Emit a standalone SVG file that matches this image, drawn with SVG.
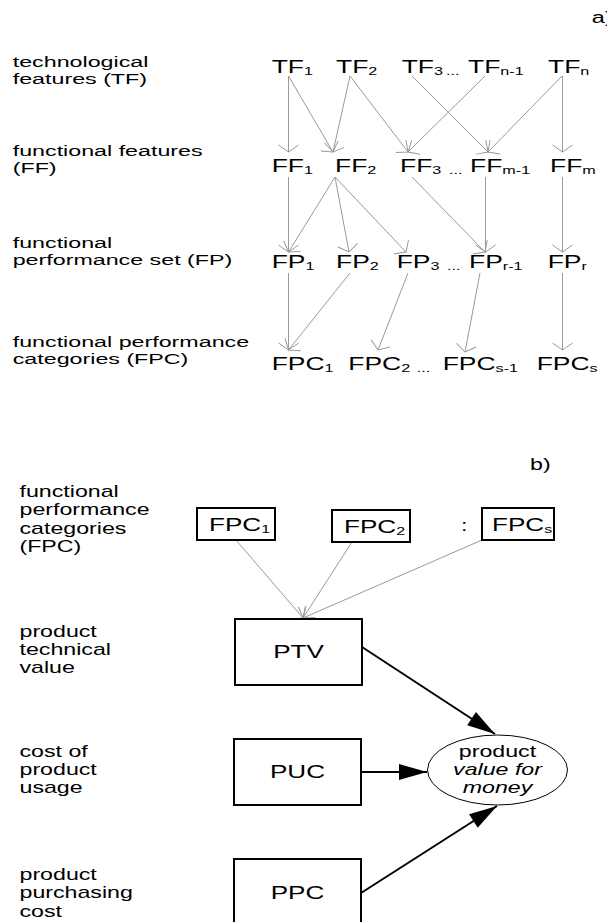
<svg xmlns="http://www.w3.org/2000/svg" width="607" height="922" viewBox="0 0 607 922">
<style>
text{font-family:"Liberation Sans",Arial,sans-serif;fill:#000}
.lbl{font-size:15.5px}
.lb2{font-size:16px}
.nd{font-size:18px}
.sub{font-size:11px}
.dots{font-size:11px}
.thin{stroke:#999;stroke-width:1;fill:none;marker-end:url(#open)}
.thick{stroke:#000;stroke-width:2;fill:none;marker-end:url(#solid)}
.box{fill:#fff;stroke:#000;stroke-width:2}
.it{font-style:italic}
</style>
<defs>
<marker id="open" viewBox="-9 -11 10 22" markerWidth="10" markerHeight="22" refX="0" refY="0" orient="auto" markerUnits="userSpaceOnUse">
<path d="M-7,-10 L0,0 L-7,10" fill="none" stroke="#999" stroke-width="1"/>
</marker>
<marker id="solid" viewBox="-29 -9 30 18" markerWidth="30" markerHeight="18" refX="0" refY="0" orient="auto" markerUnits="userSpaceOnUse">
<path d="M0,0 L-28,-8 L-28,8 Z" fill="#000"/>
</marker>
</defs>

<g id="part-a-labels">
<text class="lb2" transform="translate(591.7 23) scale(1.47 1)">a)</text>
<text class="lbl" transform="translate(12.7 67) scale(1.5 1)">technological</text>
<text class="lbl" transform="translate(12.7 83.5) scale(1.5 1)">features (TF)</text>
<text class="lbl" transform="translate(12.7 156) scale(1.5 1)">functional features</text>
<text class="lbl" transform="translate(12.7 172.5) scale(1.5 1)">(FF)</text>
<text class="lbl" transform="translate(12.7 248) scale(1.5 1)">functional</text>
<text class="lbl" transform="translate(12.7 265) scale(1.5 1)">performance set (FP)</text>
<text class="lbl" transform="translate(12.7 347) scale(1.5 1)">functional performance</text>
<text class="lbl" transform="translate(12.7 364) scale(1.5 1)">categories (FPC)</text>
</g>

<g id="connectors-a">
<line class="thin" x1="288.5" y1="76" x2="288.5" y2="152"/>
<line class="thin" x1="288.5" y1="76" x2="333" y2="152"/>
<line class="thin" x1="350" y1="76" x2="333" y2="152"/>
<line class="thin" x1="350" y1="76" x2="408" y2="152"/>
<line class="thin" x1="412" y1="76" x2="488" y2="152"/>
<line class="thin" x1="485" y1="76" x2="408" y2="152"/>
<line class="thin" x1="562" y1="76" x2="488" y2="152"/>
<line class="thin" x1="562.5" y1="76" x2="562.5" y2="152"/>
<line class="thin" x1="288.5" y1="177" x2="288.5" y2="252"/>
<line class="thin" x1="335" y1="177" x2="288.5" y2="252"/>
<line class="thin" x1="335" y1="177" x2="349" y2="252"/>
<line class="thin" x1="335" y1="177" x2="406" y2="252"/>
<line class="thin" x1="412" y1="177" x2="485" y2="252"/>
<line class="thin" x1="485.5" y1="177" x2="485.5" y2="252"/>
<line class="thin" x1="562.5" y1="177" x2="562.5" y2="252"/>
<line class="thin" x1="288.5" y1="273" x2="288.5" y2="350"/>
<line class="thin" x1="350" y1="273" x2="288.5" y2="350"/>
<line class="thin" x1="408" y1="273" x2="378" y2="350"/>
<line class="thin" x1="480" y1="273" x2="465" y2="352"/>
<line class="thin" x1="562.5" y1="273" x2="562.5" y2="350"/>
</g>

<g id="TF1"><text class="nd" transform="translate(271.7 73) scale(1.47 1)">TF<tspan class="sub" dy="2">1</tspan></text></g>
<g id="TF2"><text class="nd" transform="translate(336 73) scale(1.47 1)">TF<tspan class="sub" dy="2">2</tspan></text></g>
<g id="TF3"><text class="nd" transform="translate(401.7 73) scale(1.47 1)">TF<tspan class="sub" dy="2">3</tspan></text></g>
<text class="dots" transform="translate(446 75) scale(1.47 1)">...</text>
<g id="TFn-1"><text class="nd" transform="translate(468 73) scale(1.47 1)">TF<tspan class="sub" dy="2">n-1</tspan></text></g>
<g id="TFn"><text class="nd" transform="translate(548 73) scale(1.47 1)">TF<tspan class="sub" dy="2">n</tspan></text></g>

<g id="FF1"><text class="nd" transform="translate(271.7 172) scale(1.47 1)">FF<tspan class="sub" dy="2">1</tspan></text></g>
<g id="FF2"><text class="nd" transform="translate(335 172) scale(1.47 1)">FF<tspan class="sub" dy="2">2</tspan></text></g>
<g id="FF3"><text class="nd" transform="translate(400 172) scale(1.47 1)">FF<tspan class="sub" dy="2">3</tspan></text></g>
<text class="dots" transform="translate(449 174) scale(1.47 1)">...</text>
<g id="FFm-1"><text class="nd" transform="translate(470 172) scale(1.47 1)">FF<tspan class="sub" dy="2">m-1</tspan></text></g>
<g id="FFm"><text class="nd" transform="translate(550 172) scale(1.47 1)">FF<tspan class="sub" dy="2">m</tspan></text></g>

<g id="FP1"><text class="nd" transform="translate(271.7 268) scale(1.47 1)">FP<tspan class="sub" dy="2">1</tspan></text></g>
<g id="FP2"><text class="nd" transform="translate(336 268) scale(1.47 1)">FP<tspan class="sub" dy="2">2</tspan></text></g>
<g id="FP3"><text class="nd" transform="translate(396.7 268) scale(1.47 1)">FP<tspan class="sub" dy="2">3</tspan></text></g>
<text class="dots" transform="translate(447 270) scale(1.47 1)">...</text>
<g id="FPr-1"><text class="nd" transform="translate(469 268) scale(1.47 1)">FP<tspan class="sub" dy="2">r-1</tspan></text></g>
<g id="FPr"><text class="nd" transform="translate(547.7 268) scale(1.47 1)">FP<tspan class="sub" dy="2">r</tspan></text></g>

<g id="FPC1"><text class="nd" transform="translate(271.7 370) scale(1.47 1)">FPC<tspan class="sub" dy="2">1</tspan></text></g>
<g id="FPC2"><text class="nd" transform="translate(348.3 370) scale(1.47 1)">FPC<tspan class="sub" dy="2">2</tspan></text></g>
<text class="dots" transform="translate(416.7 372) scale(1.47 1)">...</text>
<g id="FPCs-1"><text class="nd" transform="translate(442.7 370) scale(1.47 1)">FPC<tspan class="sub" dy="2">s-1</tspan></text></g>
<g id="FPCs"><text class="nd" transform="translate(536.7 370) scale(1.47 1)">FPC<tspan class="sub" dy="2">s</tspan></text></g>

<g id="part-b-labels">
<text class="lb2" transform="translate(530 470) scale(1.45 1)">b)</text>
<text class="lb2" transform="translate(19.5 497) scale(1.45 1)">functional</text>
<text class="lb2" transform="translate(19.5 515.3) scale(1.45 1)">performance</text>
<text class="lb2" transform="translate(19.5 533.6) scale(1.45 1)">categories</text>
<text class="lb2" transform="translate(19.5 552) scale(1.45 1)">(FPC)</text>
<text class="lb2" transform="translate(19.5 636.5) scale(1.45 1)">product</text>
<text class="lb2" transform="translate(19.5 655) scale(1.45 1)">technical</text>
<text class="lb2" transform="translate(19.5 673.3) scale(1.45 1)">value</text>
<text class="lb2" transform="translate(19.5 756.7) scale(1.45 1)">cost of</text>
<text class="lb2" transform="translate(19.5 775) scale(1.45 1)">product</text>
<text class="lb2" transform="translate(19.5 793.3) scale(1.45 1)">usage</text>
<text class="lb2" transform="translate(19.5 880) scale(1.45 1)">product</text>
<text class="lb2" transform="translate(19.5 898.3) scale(1.45 1)">purchasing</text>
<text class="lb2" transform="translate(19.5 916.7) scale(1.45 1)">cost</text>
</g>

<g id="connectors-b">
<line class="thin" x1="236" y1="540" x2="303" y2="618"/>
<line class="thin" x1="352" y1="542" x2="303" y2="618"/>
<line class="thin" x1="482" y1="540" x2="303" y2="618"/>
<line class="thick" x1="362" y1="647" x2="495" y2="734"/>
<line class="thick" x1="361" y1="772" x2="427" y2="772"/>
<line class="thick" x1="361" y1="893" x2="497" y2="806"/>
</g>

<g id="b-FPC1"><rect class="box" x="197" y="508" width="78" height="32"/><text class="nd" transform="translate(209 531) scale(1.45 1)">FPC<tspan class="sub" dy="2">1</tspan></text></g>
<g id="b-FPC2"><rect class="box" x="332" y="510" width="78" height="32"/><text class="nd" transform="translate(344 533) scale(1.45 1)">FPC<tspan class="sub" dy="2">2</tspan></text></g>
<text class="lb2" transform="translate(461 531) scale(1.45 1)">:</text>
<g id="b-FPCs"><rect class="box" x="482" y="508" width="72" height="32"/><text class="nd" transform="translate(492 531) scale(1.45 1)">FPC<tspan class="sub" dy="2">s</tspan></text></g>

<g id="PTV"><rect class="box" x="235" y="619" width="127" height="66"/><text class="nd" text-anchor="middle" transform="translate(298.5 658) scale(1.45 1)">PTV</text></g>
<g id="PUC"><rect class="box" x="234" y="739" width="127" height="66"/><text class="nd" text-anchor="middle" transform="translate(297.5 778) scale(1.45 1)">PUC</text></g>
<g id="PPC"><rect class="box" x="234" y="859" width="127" height="70"/><text class="nd" text-anchor="middle" transform="translate(297.5 898.5) scale(1.45 1)">PPC</text></g>

<g id="PVM">
<ellipse cx="497.5" cy="770" rx="70" ry="35" fill="#fff" stroke="#000" stroke-width="1"/>
<text class="lb2" text-anchor="middle" transform="translate(497.5 757) scale(1.45 1)">product</text>
<text class="lb2 it" text-anchor="middle" transform="translate(497.5 775) scale(1.45 1)">value for</text>
<text class="lb2 it" text-anchor="middle" transform="translate(497.5 793) scale(1.45 1)">money</text>
</g>
</svg>
